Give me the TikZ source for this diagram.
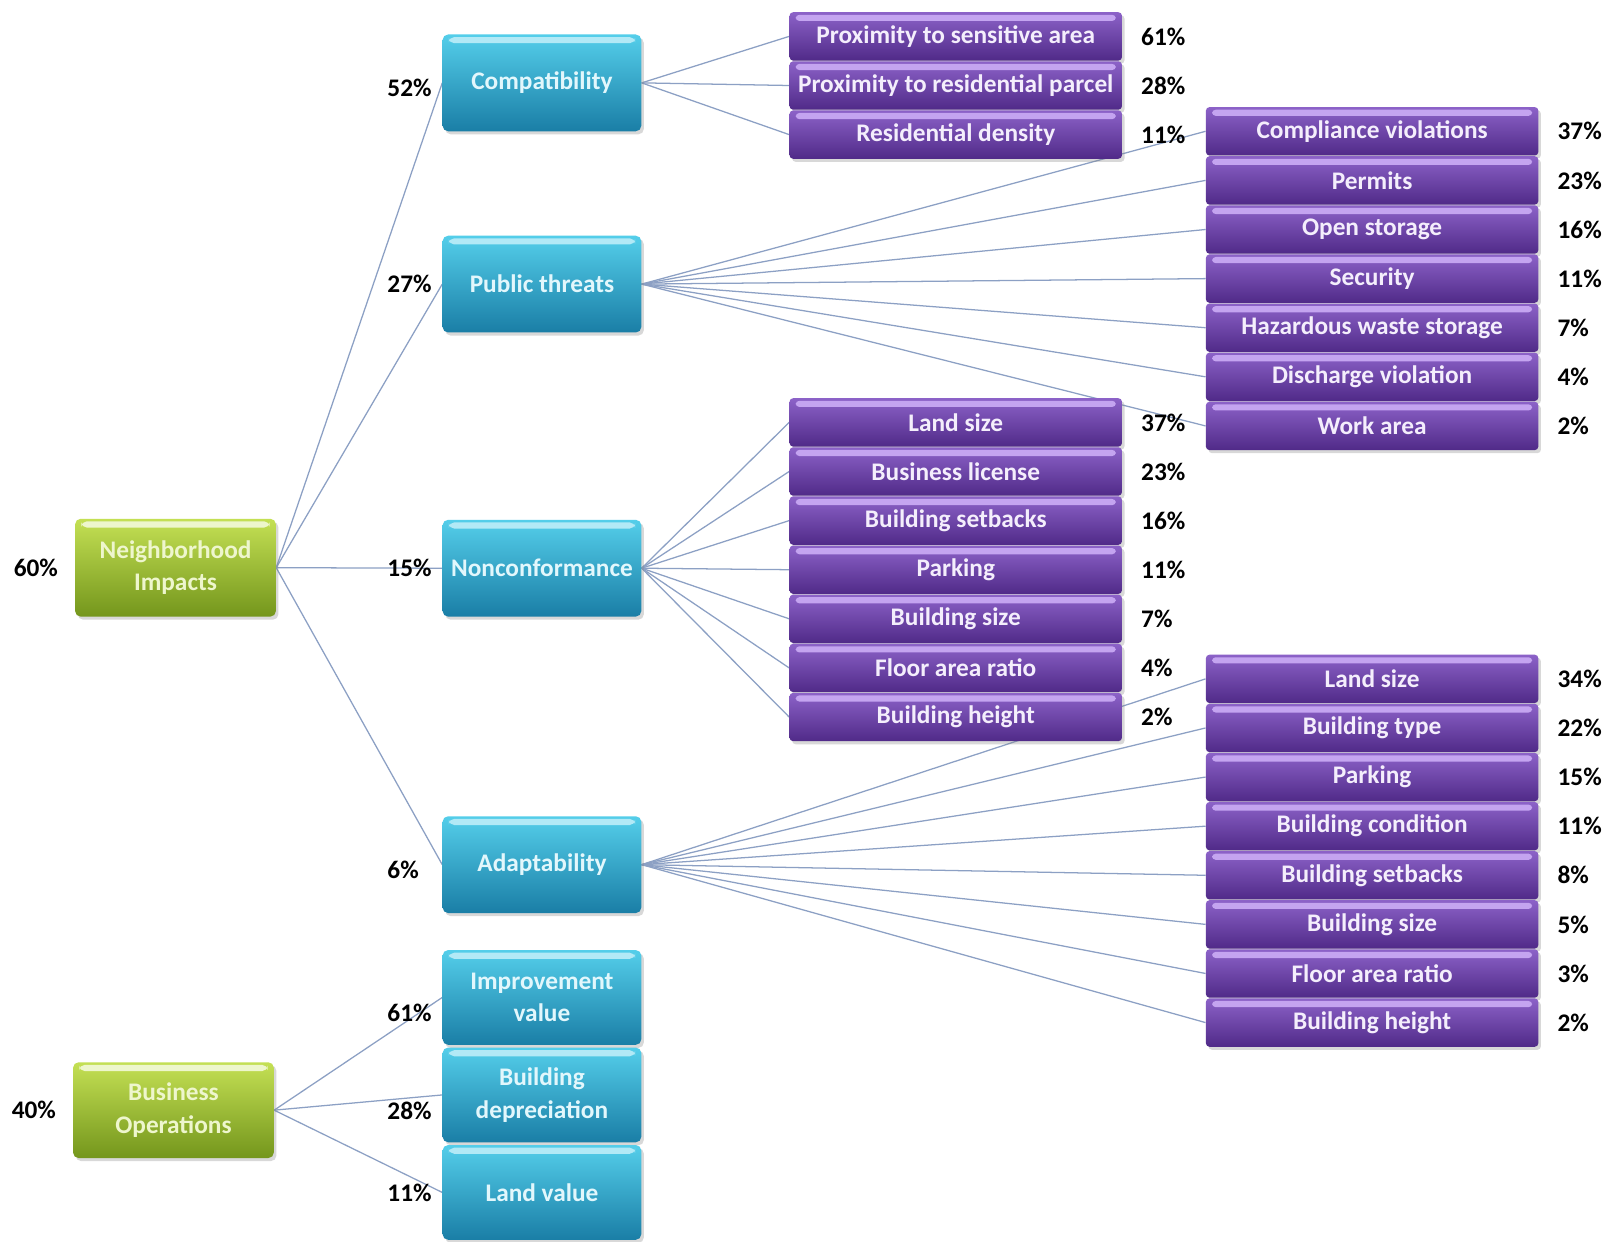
\documentclass[tikz,border=0pt]{standalone}
\usepackage{fontspec}
\setmainfont{Carlito}
\usetikzlibrary{positioning, shadows, backgrounds}
\definecolor{colorGroupTop}{RGB}{196,224,84}
\definecolor{colorGroupBot}{RGB}{116,150,28}
\definecolor{colorGroupText}{RGB}{238,246,205}
\definecolor{colorFactorTop}{RGB}{84,206,234}
\definecolor{colorFactorBot}{RGB}{26,126,166}
\definecolor{colorFactorText}{RGB}{226,247,252}
\definecolor{colorItemTop}{RGB}{140,98,200}
\definecolor{colorItemBot}{RGB}{80,42,136}
\definecolor{colorItemHi}{RGB}{196,164,240}
\definecolor{colorItemText}{RGB}{244,238,252}
\definecolor{colorLink}{RGB}{140,160,196}

\begin{document}
\begin{tikzpicture}[
    box/.style={rectangle, rounded corners=3pt, align=center, inner sep=0pt,
                font=\bfseries\fontsize{14}{18}\selectfont,
                drop shadow={opacity=0.3, shadow xshift=0.05cm, shadow yshift=-0.06cm}},
    gloss/.style={path picture={\fill[#1] ([xshift=0.12cm,yshift=-0.05cm]path picture bounding box.north west)
                rectangle ([xshift=-0.12cm,yshift=-0.17cm]path picture bounding box.north east);}},
    group/.style={box, minimum width=3.9cm, minimum height=1.9cm, top color=colorGroupTop,
                bottom color=colorGroupBot, text=colorGroupText, gloss=white!70!colorGroupTop},
    factor/.style={box, minimum width=3.86cm, minimum height=1.88cm, top color=colorFactorTop,
                bottom color=colorFactorBot, text=colorFactorText, gloss=white!55!colorFactorTop},
    item/.style={box, rounded corners=2pt, minimum width=6.46cm, minimum height=0.94cm, top color=colorItemTop,
                bottom color=colorItemBot, text=colorItemText, gloss=colorItemHi},
    pct/.style={inner sep=0pt, font=\bfseries\fontsize{14}{16}\selectfont},
    link/.style={draw=colorLink, line width=0.7pt}
]
\useasboundingbox (0,0) rectangle (31.36,-24.12);

% Criteria nodes
\node[group] (Impacts) at (3.41,-11.03) {Neighborhood\\Impacts};
\node[group, minimum height=1.86cm] (Operations) at (3.37,-21.57) {Business\\Operations};
\node[pct, left=0.32cm of Impacts] (ImpactsP) {60\%};
\node[pct, left=0.32cm of Operations] (OperationsP) {40\%};

% Factor nodes
\node[factor] (Compat) at (10.53,-1.61) {Compatibility};
\node[factor] (Threats) at (10.53,-5.52) {Public threats};
\node[factor] (Noncon) at (10.53,-11.04) {Nonconformance};
\node[factor] (Adapt) at (10.53,-16.8) {Adaptability};
\node[factor, minimum height=1.84cm] (Improve) at (10.53,-19.38) {Improvement\\value};
\node[factor, minimum height=1.84cm, below=0.04cm of Improve] (Deprec) {Building\\depreciation};
\node[factor, minimum height=1.84cm, below=0.04cm of Deprec] (LandVal) {Land value};

\node[pct, left=0.2cm of Compat, yshift=-0.09cm] (CompatP) {52\%};
\node[pct, left=0.2cm of Threats] (ThreatsP) {27\%};
\node[pct, left=0.2cm of Noncon] (NonconP) {15\%};
\node[pct, left=0.45cm of Adapt, yshift=-0.1cm] (AdaptP) {6\%};
\node[pct, left=0.2cm of Improve, yshift=-0.3cm] (ImproveP) {61\%};
\node[pct, left=0.2cm of Deprec, yshift=-0.3cm] (DeprecP) {28\%};
\node[pct, left=0.2cm of LandVal] (LandValP) {11\%};

% Compatibility items
\node[item] (CSens) at (18.57,-0.707) {Proximity to sensitive area};
\node[item, below=0pt of CSens] (CResid) {Proximity to residential parcel};
\node[item, below=0pt of CResid] (CDens) {Residential density};
\node[pct, right=0.36cm of CSens] (CSensP) {61\%};
\node[pct, right=0.36cm of CResid] (CResidP) {28\%};
\node[pct, right=0.36cm of CDens] (CDensP) {11\%};

% Public threats items
\node[item] (TComp) at (26.66,-2.551) {Compliance violations};
\node[item, below=0pt of TComp] (TPermit) {Permits};
\node[item, below=0pt of TPermit] (TStorage) {Open storage};
\node[item, below=0pt of TStorage] (TSecur) {Security};
\node[item, below=0pt of TSecur] (THazard) {Hazardous waste storage};
\node[item, below=0pt of THazard] (TDisch) {Discharge violation};
\node[item, below=0pt of TDisch] (TWork) {Work area};
\node[pct, right=0.36cm of TComp] (TCompP) {37\%};
\node[pct, right=0.36cm of TPermit] (TPermitP) {23\%};
\node[pct, right=0.36cm of TStorage] (TStorageP) {16\%};
\node[pct, right=0.36cm of TSecur] (TSecurP) {11\%};
\node[pct, right=0.36cm of THazard] (THazardP) {7\%};
\node[pct, right=0.36cm of TDisch] (TDischP) {4\%};
\node[pct, right=0.36cm of TWork] (TWorkP) {2\%};

% Nonconformance items
\node[item] (NLand) at (18.57,-8.207) {Land size};
\node[item, below=0pt of NLand] (NLicense) {Business license};
\node[item, below=0pt of NLicense] (NSetback) {Building setbacks};
\node[item, below=0pt of NSetback] (NParking) {Parking};
\node[item, below=0pt of NParking] (NSize) {Building size};
\node[item, below=0pt of NSize] (NFloor) {Floor area ratio};
\node[item, below=0pt of NFloor] (NHeight) {Building height};
\node[pct, right=0.36cm of NLand] (NLandP) {37\%};
\node[pct, right=0.36cm of NLicense] (NLicenseP) {23\%};
\node[pct, right=0.36cm of NSetback] (NSetbackP) {16\%};
\node[pct, right=0.36cm of NParking] (NParkingP) {11\%};
\node[pct, right=0.36cm of NSize] (NSizeP) {7\%};
\node[pct, right=0.36cm of NFloor] (NFloorP) {4\%};
\node[pct, right=0.36cm of NHeight] (NHeightP) {2\%};

% Adaptability items
\node[item] (ALand) at (26.66,-13.19) {Land size};
\node[item, below=0pt of ALand] (AType) {Building type};
\node[item, below=0pt of AType] (AParking) {Parking};
\node[item, below=0pt of AParking] (ACond) {Building condition};
\node[item, below=0pt of ACond] (ASetback) {Building setbacks};
\node[item, below=0pt of ASetback] (ASize) {Building size};
\node[item, below=0pt of ASize] (AFloor) {Floor area ratio};
\node[item, below=0pt of AFloor] (AHeight) {Building height};
\node[pct, right=0.36cm of ALand] (ALandP) {34\%};
\node[pct, right=0.36cm of AType] (ATypeP) {22\%};
\node[pct, right=0.36cm of AParking] (AParkingP) {15\%};
\node[pct, right=0.36cm of ACond] (ACondP) {11\%};
\node[pct, right=0.36cm of ASetback] (ASetbackP) {8\%};
\node[pct, right=0.36cm of ASize] (ASizeP) {5\%};
\node[pct, right=0.36cm of AFloor] (AFloorP) {3\%};
\node[pct, right=0.36cm of AHeight] (AHeightP) {2\%};

% Links
\begin{scope}[on background layer]
    \fill[white] (0,0) rectangle (31.36,-24.12);
    \draw[link] (Impacts.east) -- (Compat.west);
    \draw[link] (Impacts.east) -- (Threats.west);
    \draw[link] (Impacts.east) -- (Noncon.west);
    \draw[link] (Impacts.east) -- (Adapt.west);
    \draw[link] (Operations.east) -- (Improve.west);
    \draw[link] (Operations.east) -- (Deprec.west);
    \draw[link] (Operations.east) -- (LandVal.west);

    \draw[link] (Compat.east) -- (CSens.west);
    \draw[link] (Compat.east) -- (CResid.west);
    \draw[link] (Compat.east) -- (CDens.west);

    \draw[link] (Threats.east) -- (TComp.west);
    \draw[link] (Threats.east) -- (TPermit.west);
    \draw[link] (Threats.east) -- (TStorage.west);
    \draw[link] (Threats.east) -- (TSecur.west);
    \draw[link] (Threats.east) -- (THazard.west);
    \draw[link] (Threats.east) -- (TDisch.west);
    \draw[link] (Threats.east) -- (TWork.west);

    \draw[link] (Noncon.east) -- (NLand.west);
    \draw[link] (Noncon.east) -- (NLicense.west);
    \draw[link] (Noncon.east) -- (NSetback.west);
    \draw[link] (Noncon.east) -- (NParking.west);
    \draw[link] (Noncon.east) -- (NSize.west);
    \draw[link] (Noncon.east) -- (NFloor.west);
    \draw[link] (Noncon.east) -- (NHeight.west);

    \draw[link] (Adapt.east) -- (ALand.west);
    \draw[link] (Adapt.east) -- (AType.west);
    \draw[link] (Adapt.east) -- (AParking.west);
    \draw[link] (Adapt.east) -- (ACond.west);
    \draw[link] (Adapt.east) -- (ASetback.west);
    \draw[link] (Adapt.east) -- (ASize.west);
    \draw[link] (Adapt.east) -- (AFloor.west);
    \draw[link] (Adapt.east) -- (AHeight.west);
\end{scope}

\end{tikzpicture}
\end{document}
